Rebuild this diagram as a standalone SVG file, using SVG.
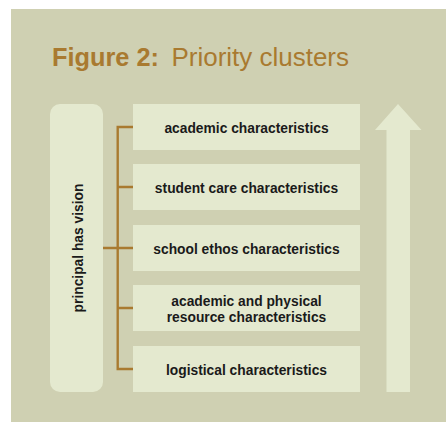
<svg xmlns="http://www.w3.org/2000/svg" width="446" height="422" viewBox="0 0 446 422">
<style>
.bg{fill:#CFD0B2}
.box{fill:#E4E9CF}
.lbl{font-family:"Liberation Sans",Arial,sans-serif;font-weight:bold;font-size:13.8px;fill:#1a1a1a;text-anchor:middle}
.conn{fill:none;stroke:#A97A30;stroke-width:2.4}
.title{font-family:"Liberation Sans",Arial,sans-serif;font-size:25.2px;fill:#A97A30}
</style>
<rect x="0" y="0" width="446" height="422" fill="#ffffff"/>
<rect class="bg" x="11" y="9" width="435" height="413"/>
<text class="title" x="52" y="66" font-weight="bold" textLength="107" lengthAdjust="spacingAndGlyphs">Figure 2:</text>
<text class="title" x="171.5" y="66" textLength="177.5" lengthAdjust="spacingAndGlyphs">Priority clusters</text>
<g id="connectors">
<path class="conn" d="M133 127 H117.7 V369 H133"/>
<path class="conn" d="M117.7 187 H133 M117.7 308 H133 M103 248 H133"/>
</g>
<g id="principal">
<rect class="box" x="50" y="104" width="53" height="288" rx="10"/>
<text class="lbl" transform="translate(82.5,248) rotate(-90)" x="0" y="0">principal has vision</text>
</g>
<g id="academic">
<rect class="box" x="133" y="104" width="227" height="46"/>
<text class="lbl" x="246.5" y="132.5">academic characteristics</text>
</g>
<g id="studentcare">
<rect class="box" x="133" y="164" width="227" height="46"/>
<text class="lbl" x="246.5" y="192.8">student care characteristics</text>
</g>
<g id="ethos">
<rect class="box" x="133" y="225" width="227" height="46"/>
<text class="lbl" x="246.5" y="253.5">school ethos characteristics</text>
</g>
<g id="resource">
<rect class="box" x="133" y="285" width="227" height="46"/>
<text class="lbl" x="246.5" y="306">academic and physical</text>
<text class="lbl" x="246.5" y="321.8">resource characteristics</text>
</g>
<g id="logistical">
<rect class="box" x="133" y="346" width="227" height="46"/>
<text class="lbl" x="246.5" y="374.5">logistical characteristics</text>
</g>
<g id="arrow">
<polygon class="box" points="398,104 421.5,130 410,130 410,392 386.5,392 386.5,130 375,130"/>
</g>
</svg>
